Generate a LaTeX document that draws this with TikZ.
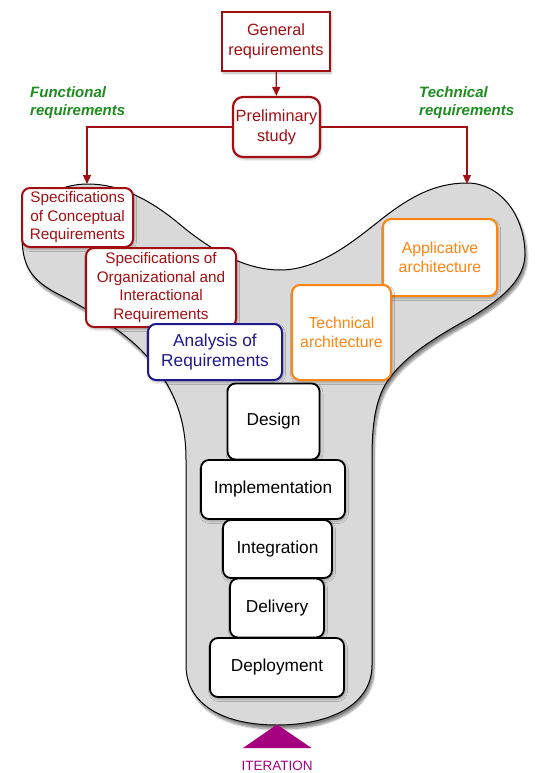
\documentclass[tikz,border=0pt]{standalone}
\usepackage{fontspec}
\setmainfont{Liberation Sans}
\usetikzlibrary{shadows,shadows.blur,arrows.meta}
\definecolor{dred}{HTML}{A20F12}
\definecolor{fgreen}{HTML}{1E8C1E}
\definecolor{orng}{HTML}{FF8410}
\definecolor{navy}{HTML}{1E1A8C}
\definecolor{mag}{HTML}{A5007F}
\definecolor{blobgrey}{HTML}{D9D9D9}
\tikzset{
  box/.style={draw, fill=white, line width=2pt, rounded corners=8pt, align=center, inner sep=0pt,
    blur shadow={shadow xshift=1pt, shadow yshift=-2pt, shadow blur radius=2.5pt, shadow opacity=30}},
  redbox/.style={box, draw=dred, text=dred, font=\fontsize{15.3}{18.5}\selectfont},
  orbox/.style={box, draw=orng, text=orng, font=\fontsize{15.8}{19.5}\selectfont},
  blkbox/.style={box, draw=black, text=black, line width=1.8pt, font=\fontsize{17.3}{20}\selectfont},
  redline/.style={draw=dred, line width=1.2pt, -{Triangle[length=9pt,width=8pt]}},
  greenlab/.style={text=fgreen, font=\fontsize{15}{18.5}\selectfont\bfseries\itshape, align=left, inner sep=0pt},
}
\begin{document}
\begin{tikzpicture}[x=1pt,y=-1pt]
\useasboundingbox (0,0) rectangle (536,773);
% blob
\path[fill=blobgrey, draw=black, line width=1pt,
  blur shadow={shadow xshift=2pt, shadow yshift=-4pt, shadow blur steps=10, shadow opacity=50}]
  (88,184) .. controls (120,184) and (150,200) .. (177,222)
  .. controls (210,250) and (245,270) .. (280,270)
  .. controls (320,270) and (355,240) .. (383,218)
  .. controls (410,197) and (435,183) .. (467,183)
  .. controls (500,183) and (525,215) .. (525,255)
  .. controls (524,280) and (503,298) .. (470,318)
  .. controls (430,340) and (400,360) .. (385,385)
  .. controls (374,405) and (372,430) .. (372,460)
  -- (372,665)
  .. controls (372,705) and (330,725) .. (277,725)
  .. controls (224,725) and (186,705) .. (186,665)
  -- (186,460)
  .. controls (186,420) and (175,390) .. (150,360)
  .. controls (130,335) and (90,310) .. (60,295)
  .. controls (30,280) and (22,265) .. (22,235)
  .. controls (22,205) and (55,184) .. (88,184) -- cycle;
% top boxes
\node[box, rounded corners=0pt, draw=dred, text=dred, line width=2.2pt, minimum width=108pt, minimum height=59pt,
  font=\fontsize{16.3}{20}\selectfont] (gen) at (276,41.5) {General\\requirements};
\node[box, draw=dred, text=dred, line width=2.2pt, rounded corners=10pt, minimum width=87pt, minimum height=60pt,
  font=\fontsize{16.3}{20}\selectfont] (pre) at (276.5,127) {Preliminary\\study};
\coordinate (fa) at (87,184);
\coordinate (ta) at (467,184);
\draw[redline] (gen) -- (pre);
\draw[redline] (pre.west) -| (fa);
\draw[redline] (pre.east) -| (ta);
\node[greenlab, anchor=north west] (fl) at (30,86) {Functional\\requirements};
\node[greenlab, anchor=north west] (tl) at (419,86) {Technical\\requirements};
% left boxes
\node[redbox, minimum width=111pt, minimum height=59pt] (spc) at (77.5,217.5) {Specifications\\of Conceptual\\Requirements};
\node[redbox, minimum width=150pt, minimum height=79pt] (spo) at (161,287.5) {Specifications of\\Organizational and\\Interactional\\Requirements};
\node[box, draw=navy, text=navy, minimum width=134pt, minimum height=56pt, font=\fontsize{17.3}{20}\selectfont] (ana) at (215,352) {Analysis of\\Requirements};
% right boxes
\node[orbox, minimum width=114pt, minimum height=77pt] (app) at (440,257.5) {Applicative\\architecture};
\node[orbox, minimum width=99pt, minimum height=95pt] (tec) at (341.5,332.5) {Technical\\architecture};
% stem boxes
\node[blkbox, minimum width=92pt, minimum height=76pt] (des) at (273.5,421.5) {Design};
\node[blkbox, minimum width=144pt, minimum height=59pt] (imp) at (273,489.5) {Implementation};
\node[blkbox, minimum width=109pt, minimum height=58pt] (int) at (277.5,549) {Integration};
\node[blkbox, minimum width=94pt, minimum height=59pt] (del) at (277,608) {Delivery};
\node[blkbox, minimum width=134pt, minimum height=59pt] (dep) at (277,667.5) {Deployment};
% iteration
\fill[mag] (277,724.5) -- (311.5,748) -- (243,748) -- cycle;
\node[text=mag, font=\fontsize{13.5}{16}\selectfont, inner sep=0pt] (iter) at (277,766) {ITERATION};
\end{tikzpicture}
\end{document}
